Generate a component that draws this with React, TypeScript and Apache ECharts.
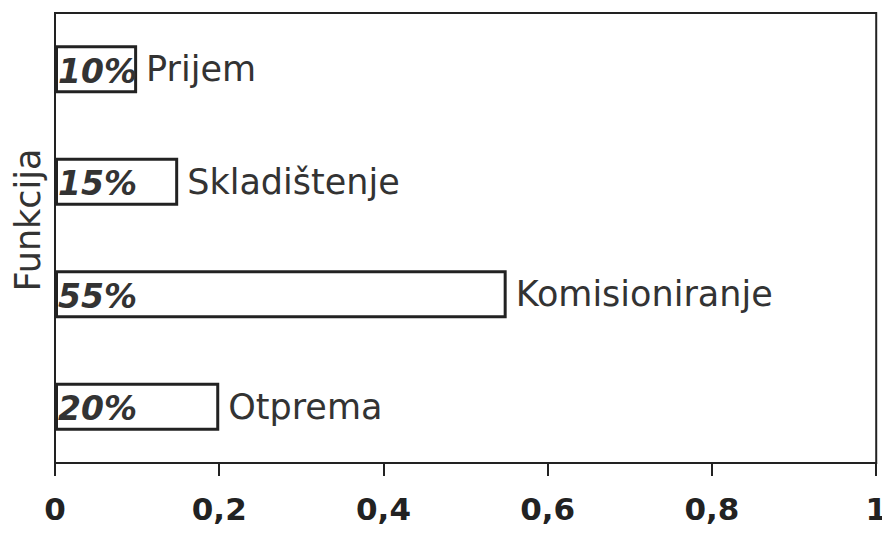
import React, { useEffect, useRef } from "react";
import * as echarts from "echarts";

const categories = ["Prijem", "Skladištenje", "Komisioniranje", "Otprema"];
const shares = [0.1, 0.15, 0.55, 0.2];
const xTicks = { min: 0, max: 1, interval: 0.2 };
const yAxisTitle = "Funkcija";

export default function App() {
  const ref = useRef<HTMLDivElement>(null);
  useEffect(() => {
    if (!ref.current) return;
    const chart = echarts.init(ref.current, undefined, { renderer: "svg" });
    const font = "'DejaVu Sans', Verdana, sans-serif";
    chart.setOption({
      animation: false,
      backgroundColor: "#fff",
      grid: {
        left: 55,
        right: 12,
        top: 13,
        bottom: 70,
        show: true,
        borderColor: "#222",
        borderWidth: 2,
        backgroundColor: "transparent",
      },
      xAxis: {
        type: "value",
        min: xTicks.min,
        max: xTicks.max,
        interval: xTicks.interval,
        splitLine: { show: false },
        axisLine: { show: true, lineStyle: { color: "#222", width: 2 } },
        axisTick: { show: true, length: 13, lineStyle: { color: "#222", width: 2 } },
        axisLabel: {
          margin: 30,
          fontFamily: font,
          fontWeight: "bold",
          fontSize: 31,
          color: "#222",
          formatter: (v: number) => String(Math.round(v * 10) / 10).replace(".", ","),
        },
      },
      yAxis: {
        type: "category",
        data: categories,
        inverse: true,
        axisLine: { show: true, lineStyle: { color: "#222", width: 2 } },
        axisTick: { show: false },
        axisLabel: { show: false },
      },
      graphic: [
        {
          type: "text",
          x: 28,
          y: 220,
          rotation: Math.PI / 2,
          style: {
            text: yAxisTitle,
            fontFamily: font,
            fontSize: 35,
            fill: "#333",
            align: "center",
            verticalAlign: "middle",
          },
        },
      ],
      series: [
        {
          type: "bar",
          data: shares,
          barWidth: 48,
          itemStyle: { color: "#fff", borderColor: "#222", borderWidth: 3 },
          label: {
            show: true,
            position: "insideLeft",
            distance: 3,
            offset: [0, 2],
            fontFamily: font,
            fontWeight: "bold",
            fontStyle: "italic",
            fontSize: 33,
            color: "#333",
            formatter: (p: any) => `${Math.round(p.value * 100)}%`,
          },
        },
        {
          type: "bar",
          data: shares,
          barWidth: 48,
          barGap: "-100%",
          itemStyle: { color: "transparent" },
          label: {
            show: true,
            position: "right",
            distance: 9,
            fontFamily: font,
            fontSize: 35,
            color: "#333",
            formatter: "{b}",
          },
        },
      ],
    });
    return () => chart.dispose();
  }, []);
  return <div ref={ref} style={{ width: 890, height: 533, margin: -8 }} />;
}
